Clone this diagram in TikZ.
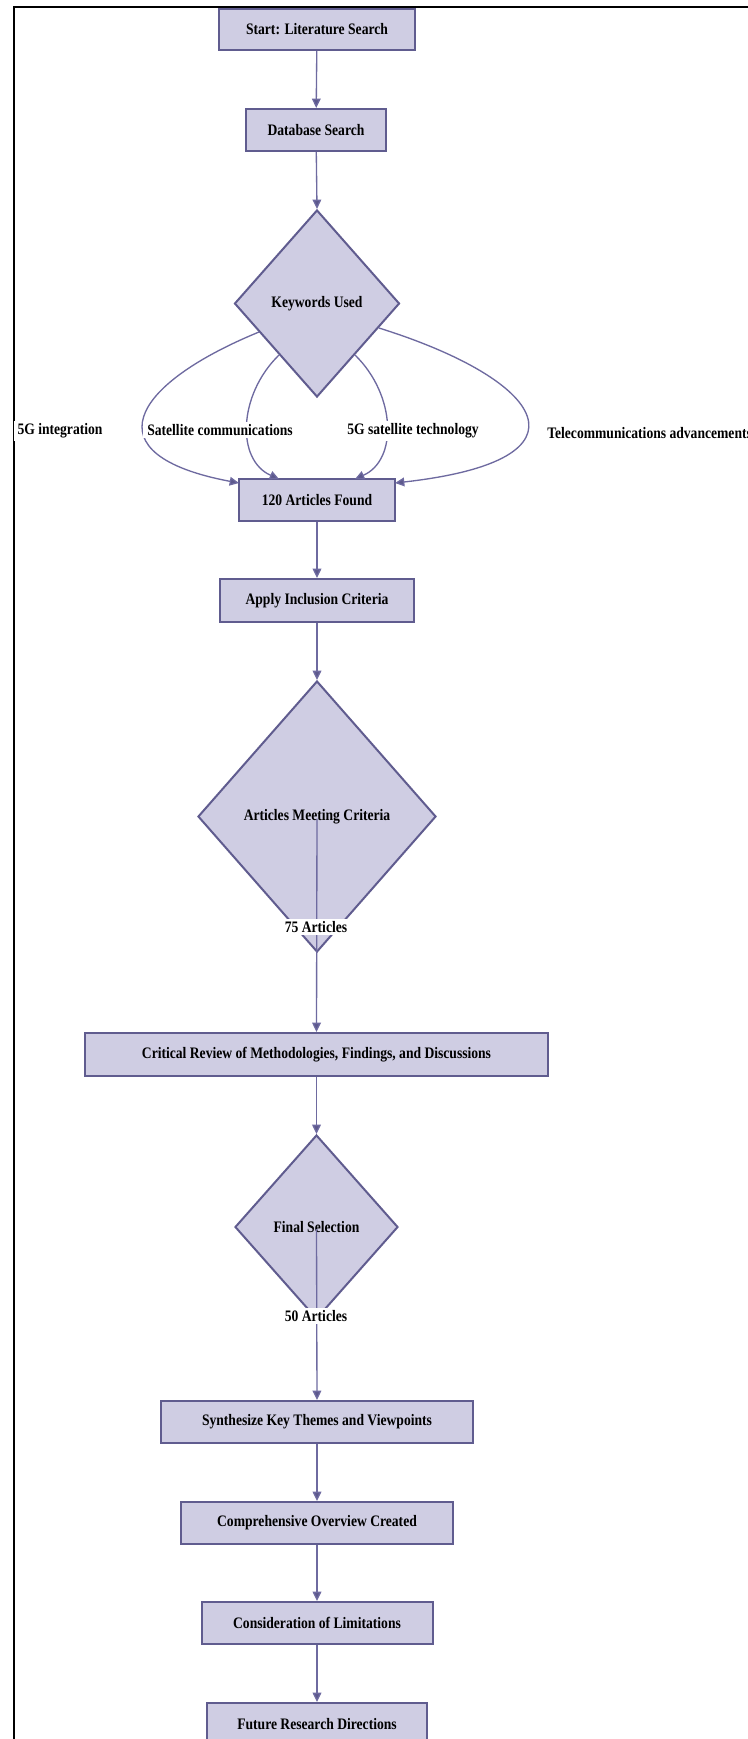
\documentclass[tikz,border=0pt]{standalone}
\usepackage{fontspec}
\setmainfont[FakeStretch=0.85]{Liberation Serif}
\usetikzlibrary{shapes.geometric,arrows.meta}
\definecolor{boxfill}{RGB}{207,205,227}
\definecolor{boxline}{RGB}{96,92,143}
\definecolor{edgeline}{RGB}{110,106,160}
\definecolor{tipcol}{RGB}{92,88,140}
\tikzset{
  box/.style={draw=boxline, fill=boxfill, line width=1.5pt, rectangle, inner sep=0pt,
    font=\fontsize{12pt}{14pt}\selectfont\bfseries, text=black},
  dia/.style={draw=boxline, fill=boxfill, line width=1.5pt, diamond, inner sep=0pt,
    font=\fontsize{12pt}{14pt}\selectfont\bfseries, text=black},
  elabel/.style={fill=white, inner xsep=3pt, inner ysep=2pt, font=\fontsize{12pt}{14pt}\selectfont\bfseries, text=black},
  conn/.style={draw=edgeline, line width=1pt, -{Triangle[length=7pt,width=6.5pt,fill=tipcol]}},
  plain/.style={draw=edgeline, line width=1pt}
}
\begin{document}
\begin{tikzpicture}[x=0.75pt,y=-0.75pt]
\useasboundingbox (0,0) rectangle (748,1739);
\clip (0,0) rectangle (748,1739);
\fill[white] (0,0) rectangle (748,1739);
% frame
\draw[black, line width=1.5pt] (13.5,1739) -- (13.5,6.5) -- (748,6.5);

% nodes
\node[box, minimum width=147pt, minimum height=30.75pt] (start) at (317,29.5) {Start: Literature Search};
\node[box, minimum width=105pt, minimum height=31.5pt] (db) at (316,130) {Database Search};
\node[dia, minimum width=123.75pt, minimum height=140.25pt] (kw) at (317,303.5) {Keywords Used};
\node[box, minimum width=117pt, minimum height=31.5pt] (found) at (317,500) {120 Articles Found};
\node[box, minimum width=145.5pt, minimum height=32.25pt] (apply) at (317,600.5) {Apply Inclusion Criteria};
\node[dia, minimum width=178.5pt, minimum height=203.25pt] (amc) at (317,816.5) {Articles Meeting Criteria};
\node[box, minimum width=347.25pt, minimum height=32.25pt] (crit) at (316.5,1054.5) {Critical Review of Methodologies, Findings, and Discussions};
\node[dia, minimum width=122.25pt, minimum height=138pt] (fin) at (316.5,1227) {Final Selection};
\node[box, minimum width=234pt, minimum height=31.5pt] (synth) at (317,1422) {Synthesize Key Themes and Viewpoints};
\node[box, minimum width=204pt, minimum height=31.5pt] (comp) at (317,1523) {Comprehensive Overview Created};
\node[box, minimum width=173.25pt, minimum height=31.5pt] (consid) at (317,1623) {Consideration of Limitations};
\node[box, minimum width=165pt, minimum height=31.5pt] (future) at (317,1724) {Future Research Directions};

% coordinates for curved connectors
\coordinate (k1) at (259,332);
\coordinate (k2) at (279,355);
\coordinate (k3) at (355,355);
\coordinate (k4) at (379,328);
\coordinate (f1) at (239,483);
\coordinate (f2) at (279,479);
\coordinate (f3) at (355,479);
\coordinate (f4) at (395,483);

% straight connectors
\draw[conn] (start) -- (db);
\draw[conn] (db) -- (kw.north);
\draw[conn] (found) -- (apply);
\draw[conn] (apply) -- (amc.north);
\draw[conn] ([yshift=-1.5pt]amc.center) -- (crit.north);
\draw[conn] (crit) -- (fin.north);
\draw[conn] ([yshift=-1.5pt]fin.center) -- (synth.north);
\draw[conn] (synth) -- (comp);
\draw[conn] (comp) -- (consid);
\draw[conn] (consid) -- (future);

% curved connectors
\draw[conn] (k1) .. controls (130,385) and (90,455) .. (f1);
\draw[conn] (k2) .. controls (238,395) and (236,460) .. (f2);
\draw[conn] (k3) .. controls (396,395) and (398,460) .. (f3);
\draw[conn] (k4) .. controls (545,380) and (600,460) .. (f4);

% edge labels
\node[elabel] (l1) at (60,431) {5G integration};
\node[elabel] (l2) at (220,430) {Satellite communications};
\node[elabel] (l3) at (413,431) {5G satellite technology};
\node[elabel, anchor=west] (l4) at (543,433) {Telecommunications advancements};
\node[elabel] (l5) at (316,927) {75 Articles};
\node[elabel] (l6) at (316,1316) {50 Articles};
\end{tikzpicture}
\end{document}
